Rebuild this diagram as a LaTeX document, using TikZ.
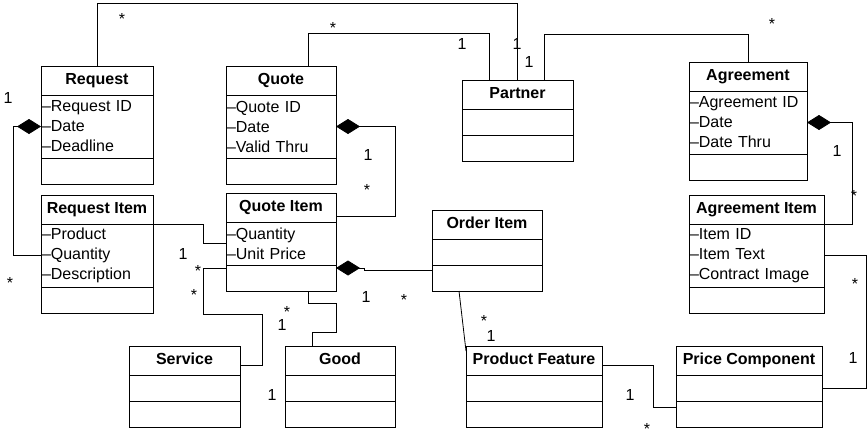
\documentclass[tikz,border=0pt]{standalone}
\usepackage{fontspec}
\setmainfont{Liberation Sans}
\usetikzlibrary{arrows.meta,positioning}
\tikzset{
  cbox/.style={draw,line width=0.9pt,outer sep=0pt,inner sep=0pt},
  ctitle/.style={cbox,font=\bfseries\fontsize{16}{20}\selectfont,minimum height=29pt,
                 text height=11.5pt,text depth=3.5pt,anchor=north west},
  cattr/.style={cbox,font=\fontsize{16}{20}\selectfont,align=left,inner xsep=1pt,minimum height=63pt},
  cempty/.style={cbox,minimum height=26pt},
  link/.style={draw,line width=0.8pt},
  compo/.style={link,-{Diamond[length=24pt,width=15pt,fill=black]}},
  mult/.style={font=\fontsize{16}{20}\selectfont,inner sep=0pt,anchor=base},
}
\begin{document}
\begin{tikzpicture}[x=1pt,y=-1pt]
\useasboundingbox (0,0) rectangle (868,436);

\node[ctitle,minimum width=112pt] (req) at (41,66) {Request};
\node[cattr,text width=110pt,below=0pt of req] (req-a) {--Request ID\\--Date\\--Deadline};
\node[cempty,minimum width=112pt,below=0pt of req-a] (req-o) {};

\node[ctitle,minimum width=110pt] (qt) at (226,66) {Quote};
\node[cattr,text width=108pt,below=0pt of qt] (qt-a) {--Quote ID\\--Date\\--Valid Thru};
\node[cempty,minimum width=110pt,below=0pt of qt-a] (qt-o) {};

\node[ctitle,minimum width=111pt] (par) at (462,80) {Partner};
\node[cempty,minimum width=111pt,below=0pt of par] (par-a) {};
\node[cempty,minimum width=111pt,below=0pt of par-a] (par-o) {};

\node[ctitle,minimum width=118pt] (agr) at (689,62) {Agreement};
\node[cattr,text width=116pt,below=0pt of agr] (agr-a) {--Agreement ID\\--Date\\--Date Thru};
\node[cempty,minimum width=118pt,below=0pt of agr-a] (agr-o) {};

\node[ctitle,minimum width=112pt] (reqi) at (41,195) {Request Item};
\node[cattr,text width=110pt,below=0pt of reqi] (reqi-a) {--Product\\--Quantity\\--Description};
\node[cempty,minimum width=112pt,below=0pt of reqi-a] (reqi-o) {};

\node[ctitle,minimum width=110pt] (qti) at (226,193) {Quote Item};
\node[cattr,text width=108pt,minimum height=43pt,below=0pt of qti] (qti-a) {--Quantity\\--Unit Price};
\node[cempty,minimum width=110pt,below=0pt of qti-a] (qti-o) {};

\node[ctitle,minimum width=110pt] (oi) at (432,210) {Order Item};
\node[cempty,minimum width=110pt,below=0pt of oi] (oi-a) {};
\node[cempty,minimum width=110pt,below=0pt of oi-a] (oi-o) {};

\node[ctitle,minimum width=135pt] (agi) at (689,195) {Agreement Item};
\node[cattr,text width=133pt,below=0pt of agi] (agi-a) {--Item ID\\--Item Text\\--Contract Image};
\node[cempty,minimum width=135pt,below=0pt of agi-a] (agi-o) {};

\node[ctitle,minimum width=111pt] (srv) at (129,346) {Service};
\node[cempty,minimum width=111pt,below=0pt of srv] (srv-a) {};
\node[cempty,minimum width=111pt,below=0pt of srv-a] (srv-o) {};

\node[ctitle,minimum width=110pt] (gd) at (285,346) {Good};
\node[cempty,minimum width=110pt,below=0pt of gd] (gd-a) {};
\node[cempty,minimum width=110pt,below=0pt of gd-a] (gd-o) {};

\node[ctitle,minimum width=136pt] (pf) at (466,346) {Product Feature};
\node[cempty,minimum width=136pt,below=0pt of pf] (pf-a) {};
\node[cempty,minimum width=136pt,below=0pt of pf-a] (pf-o) {};

\node[ctitle,minimum width=146pt] (pc) at (676,346) {Price Component};
\node[cempty,minimum width=146pt,below=0pt of pc] (pc-a) {};
\node[cempty,minimum width=146pt,below=0pt of pc-a] (pc-o) {};

\draw[link] (req.north) -- ++(0,-63) -| (par.north);
\draw[link] ([xshift=27pt]qt.north) -- ++(0,-33) -| ([xshift=-28pt]par.north);
\draw[link] ([xshift=27pt]par.north) -- ++(0,-46) -| (agr.north);
\draw[compo] (reqi-a.west) -- ++(-28,0) |- (req-a.west);
\draw[compo] ([yshift=-9pt]qti.east) -- ++(59,0) |- (qt-a.east);
\draw[compo] (agi.south east) -- ++(28,0) |- (agr-a.east);
\draw[compo] ([yshift=-5pt]oi-o.north west) -- ++(-68,0) |- ([yshift=-3pt]qti-o.north east);
\draw[link] (reqi.south east) -- ++(50,0) |- (qti-a.west);
\draw[link] ([yshift=-3pt]qti-o.north west) -- ++(-23,0) -- ++(0,46) -- ++(59,0) |- ([yshift=-5pt]srv.east);
\draw[link] ([xshift=27pt]qti-o.south) -- ++(0,12) -- ++(28,0) -- ++(0,29) -| ([xshift=-28pt]gd.north);
\draw[link] ([xshift=27pt]oi-o.south west) -- ([yshift=-5pt]pf.north west);
\draw[link] ([yshift=-5pt]pf.east) -- ++(51,0) |- ([yshift=-6pt]pc-o.north west);
\draw[link] (agi-a.east) -- ++(42,0) |- (pc-a.east);

% multiplicities
\node[mult] (m1) at (122,25) {*};
\node[mult] (m2) at (517,50) {1};
\node[mult] (m3) at (333,34) {*};
\node[mult] (m4) at (462,50) {1};
\node[mult] (m5) at (529,67) {1};
\node[mult] (m6) at (772,30) {*};
\node[mult] (m7) at (8,103) {1};
\node[mult] (m8) at (10,288) {*};
\node[mult] (m9) at (368,160) {1};
\node[mult] (m10) at (367,195) {*};
\node[mult] (m11) at (183,259) {1};
\node[mult] (m12) at (198,276) {*};
\node[mult] (m13) at (194,300) {*};
\node[mult] (m14) at (287,317) {*};
\node[mult] (m15) at (282,330) {1};
\node[mult] (m16) at (272,400) {1};
\node[mult] (m17) at (366,302) {1};
\node[mult] (m18) at (404,305) {*};
\node[mult] (m19) at (484,326) {*};
\node[mult] (m20) at (491,341) {1};
\node[mult] (m21) at (630,400) {1};
\node[mult] (m22) at (647,434) {*};
\node[mult] (m23) at (837,156) {1};
\node[mult] (m24) at (854,201) {*};
\node[mult] (m25) at (855,289) {*};
\node[mult] (m26) at (853,363) {1};

\end{tikzpicture}
\end{document}
